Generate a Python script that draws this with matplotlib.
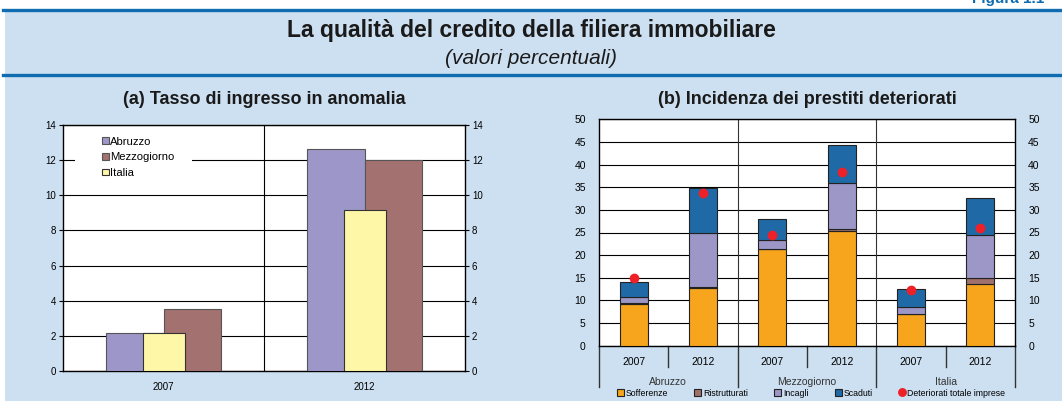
import numpy as np
import matplotlib.pyplot as plt
from matplotlib.patches import Rectangle
from matplotlib.lines import Line2D

plt.rcParams['font.family'] = ['Liberation Sans', 'DejaVu Sans']

# panel (a) data
anni_a = ['2007', '2012']
abruzzo_a = [2.18, 12.66]
mezzogiorno_a = [3.55, 12.03]
italia_a = [2.14, 9.17]

# panel (b) data
aree = ['Abruzzo', 'Mezzogiorno', 'Italia']
anni_b = ['2007', '2012', '2007', '2012', '2007', '2012']
sofferenze = [9.1, 12.7, 21.3, 25.3, 6.9, 13.6]
ristrutturati = [0.3, 0.3, 0.1, 0.4, 0.2, 1.4]
incagli = [1.3, 12.0, 1.9, 10.2, 1.5, 9.4]
scaduti = [3.3, 9.8, 4.6, 8.4, 3.9, 8.2]
deteriorati_tot = [14.9, 33.8, 24.4, 38.4, 12.2, 26.1]

bg = '#cde0f1'
blu = '#0f6cb0'

fig = plt.figure(figsize=(10.62, 4.01), dpi=100)
fig.patch.set_facecolor('white')
fig.patches.append(Rectangle((5 / 1062, 0), 1, 1 - 10 / 401, transform=fig.transFigure,
                             facecolor=bg, edgecolor='none', zorder=-5))
fig.add_artist(Line2D([3 / 1062, 1], [1 - 9.5 / 401] * 2, color=blu, lw=2.4))
fig.add_artist(Line2D([3 / 1062, 1], [1 - 74.5 / 401] * 2, color=blu, lw=2.4))
# header label, cut by the top edge as in the original page
fig.text(0.915, 1 - 3 / 401, 'Figura 1.1', color=blu, fontsize=11, fontweight='bold',
         ha='left', va='baseline')

fig.text(0.5, 1 - 30 / 401, 'La qualità del credito della filiera immobiliare',
         ha='center', va='center', fontsize=16.5, fontweight='bold', color='#1a1a1a')
fig.text(0.5, 1 - 58 / 401, '(valori percentuali)', ha='center', va='center',
         fontsize=15, style='italic', color='#1a1a1a')

# ---------- (a) ----------
ax1 = fig.add_axes([63 / 1062, 1 - 371 / 401, 402 / 1062, 246 / 401])
x = np.arange(len(anni_a))
ax1.bar(x - 0.1425, abruzzo_a, width=0.285, color='#9d97c9', edgecolor='#555555', lw=0.8,
        label='Abruzzo', zorder=3)
ax1.bar(x + 0.1425, mezzogiorno_a, width=0.285, color='#a37170', edgecolor='#555555', lw=0.8,
        label='Mezzogiorno', zorder=3)
ax1.bar(x + 0.003, italia_a, width=0.21, color='#fff7a8', edgecolor='#333333', lw=0.8,
        label='Italia', zorder=4)
ax1.set_xlim(-0.5, 1.5)
ax1.set_ylim(0, 14)
ax1.set_yticks(np.arange(0, 15, 2))
ax1.set_xticks(x)
ax1.set_xticklabels(anni_a)
ax1.yaxis.grid(True, color='black', lw=0.8)
ax1.axvline(0.5, color='black', lw=0.8, zorder=1)
ax1.set_axisbelow(True)
ax1.tick_params(axis='y', left=True, right=True, labelleft=True, labelright=True,
                length=3, width=0.8, labelsize=7, pad=2)
ax1.tick_params(axis='x', length=0, labelsize=7, pad=8)
for s in ax1.spines.values():
    s.set_linewidth(1)
# white box behind the legend
ax1.add_patch(Rectangle((0.03, 0.756), 0.291, 0.225, transform=ax1.transAxes,
                        facecolor='white', edgecolor='none', zorder=2))
leg = ax1.legend(loc='upper left', bbox_to_anchor=(0.098, 0.952), fontsize=8.1, frameon=False,
                 borderpad=0, handlelength=0.55, handleheight=0.55,
                 handletextpad=0.15, labelspacing=0.5, borderaxespad=0)
leg.set_zorder(5)
fig.text((63 + 201) / 1062, 1 - 100 / 401, '(a) Tasso di ingresso in anomalia',
         ha='center', va='center', fontsize=13, fontweight='bold', color='#1a1a1a')

# ---------- (b) ----------
ax2 = fig.add_axes([599 / 1062, 1 - 345.7 / 401, 416 / 1062, 226.4 / 401])
xb = np.arange(len(anni_b))
w = 0.4
b1 = np.array(sofferenze)
b2 = b1 + np.array(ristrutturati)
b3 = b2 + np.array(incagli)
h1 = ax2.bar(xb, sofferenze, width=w, color='#f6a51d', edgecolor='#222222', lw=0.8, label='Sofferenze', zorder=3)
h2 = ax2.bar(xb, ristrutturati, width=w, bottom=b1, color='#a0706c', edgecolor='#222222', lw=0.8,
             label='Ristrutturati', zorder=3)
h3 = ax2.bar(xb, incagli, width=w, bottom=b2, color='#9d97c8', edgecolor='#222222', lw=0.8,
             label='Incagli', zorder=3)
h4 = ax2.bar(xb, scaduti, width=w, bottom=b3, color='#1f69a6', edgecolor='#222222', lw=0.8,
             label='Scaduti', zorder=3)
h5, = ax2.plot(xb, deteriorati_tot, 'o', color='#ee2028', ms=6, ls='none',
               label='Deteriorati totale imprese', zorder=5)
ax2.set_xlim(-0.5, 5.5)
ax2.set_ylim(0, 50)
ax2.set_yticks(np.arange(0, 51, 5))
ax2.set_xticks(xb)
ax2.set_xticklabels(anni_b)
ax2.yaxis.grid(True, color='black', lw=0.8)
ax2.axvline(1.5, color='#333333', lw=0.8, zorder=1)
ax2.axvline(3.5, color='#333333', lw=0.8, zorder=1)
ax2.set_axisbelow(True)
ax2.tick_params(axis='y', left=False, right=False, labelleft=True, labelright=True,
                labelsize=7.5, pad=6)
ax2.tick_params(axis='x', length=0, labelsize=7.5, pad=8)
for s in ax2.spines.values():
    s.set_linewidth(1)

# multi-level category axis
tr = ax2.get_xaxis_transform()
for xs in [0.5, 2.5, 4.5]:
    ax2.plot([xs, xs], [0, -0.094], color='#333333', lw=1, transform=tr, clip_on=False)
for xs in [-0.5, 1.5, 3.5, 5.5]:
    ax2.plot([xs, xs], [0, -0.182], color='#333333', lw=1, transform=tr, clip_on=False)
for i, a in enumerate(aree):
    ax2.text(2 * i + 0.5, -0.160, a, transform=tr, ha='center', va='center', fontsize=7.5,
             color='#333333')
ax2.legend(handles=[h1, h2, h3, h4, h5], loc='center', bbox_to_anchor=(0.51, -0.209), ncol=5,
           fontsize=6.3, frameon=False, handlelength=0.8, handleheight=0.8, handletextpad=0.2,
           columnspacing=3.0, borderaxespad=0, borderpad=0, markerscale=0.9)
fig.text((599 + 208) / 1062, 1 - 100 / 401, '(b) Incidenza dei prestiti deteriorati',
         ha='center', va='center', fontsize=13, fontweight='bold', color='#1a1a1a')

fig.savefig('out.png', dpi=100, facecolor=fig.get_facecolor())
